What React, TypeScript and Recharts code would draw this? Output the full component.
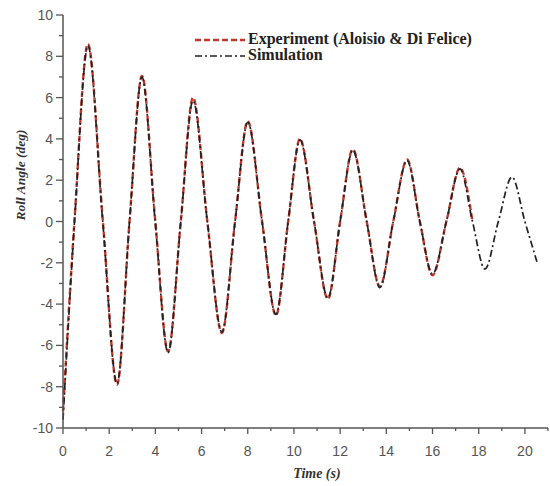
import { LineChart, Line, XAxis, YAxis } from "recharts";

// time (s) of each read point: extremes and zero crossings
const time = [
  0, 0.5, 1.08, 1.72, 2.34, 2.88, 3.42, 3.99, 4.55, 5.1, 5.63, 6.25, 6.88, 7.45,
  8.0, 8.62, 9.22, 9.75, 10.26, 10.87, 11.47, 12.0, 12.55, 13.15, 13.72, 14.3,
  14.9, 15.45, 16.0, 16.6, 17.19, 17.73, 18.27, 18.85, 19.44, 20.0, 20.56,
];

const simulation = [
  -9.6, 0, 8.5, 0, -7.85, 0, 7.0, 0, -6.35, 0, 5.85, 0, -5.35, 0, 4.8, 0, -4.5,
  0, 3.95, 0, -3.7, 0, 3.45, 0, -3.2, 0, 2.95, 0, -2.55, 0, 2.55, 0, -2.3, 0,
  2.15, 0, -2.1,
];

const experiment = [
  -9.2, 0.1, 8.6, 0.1, -7.9, 0, 7.05, 0.1, -6.3, 0, 6.0, 0, -5.4, 0, 4.85, 0,
  -4.55, 0, 4.0, 0, -3.75, 0, 3.5, 0, -3.15, 0, 3.0, 0, -2.6, 0, 2.6, 0,
];

const xTicks = Array.from({ length: 22 }, (_, i) => i);
const yTicks = Array.from({ length: 21 }, (_, i) => i - 10);

const data = time.map((t, i) => ({
  t,
  sim: simulation[i],
  exp: i < experiment.length ? experiment[i] : undefined,
}));

const axisColor = "#555";
const tickFont = "'Liberation Sans', Arial, sans-serif";
const serif = "'Liberation Serif', 'Times New Roman', serif";

const XTick = (props: any) => {
  const { x, y, payload } = props;
  const major = payload.value % 2 === 0;
  return (
    <g>
      <line x1={x} x2={x} y1={y} y2={y + (major ? 6 : 3)} stroke={axisColor} strokeWidth={1.3} />
      {major && (
        <text x={x} y={y + 28} textAnchor="middle" fontSize={14} fill="#555" fontFamily={tickFont}>
          {payload.value}
        </text>
      )}
    </g>
  );
};

const YTick = (props: any) => {
  const { x, y, payload } = props;
  const major = payload.value % 2 === 0;
  return (
    <g>
      <line x1={x} x2={x - (major ? 7 : 4)} y1={y} y2={y} stroke={axisColor} strokeWidth={1.3} />
      {major && (
        <text x={x - 10} y={y + 5} textAnchor="end" fontSize={14} fill="#555" fontFamily={tickFont}>
          {payload.value}
        </text>
      )}
    </g>
  );
};

export default function App() {
  return (
    <div style={{ position: "absolute", left: 0, top: 0, width: 550, height: 486, background: "#fff" }}>
      <LineChart width={550} height={486} data={data} margin={{ top: 15, right: 2, left: 23, bottom: 28 }}>
        <XAxis
          dataKey="t"
          type="number"
          domain={[0, 21]}
          ticks={xTicks}
          interval={0}
          tickSize={0}
          tickMargin={0}
          tickLine={false}
          tick={<XTick />}
          height={30}
          stroke={axisColor}
          strokeWidth={1.5}
          label={{
            content: (p: any) => (
              <text
                x={p.viewBox.x + 254}
                y={p.viewBox.y + 50}
                textAnchor="middle"
                fontSize={14}
                fontWeight="bold"
                fontStyle="italic"
                fill="#333"
                fontFamily={serif}
              >
                Time (s)
              </text>
            ),
          }}
        />
        <YAxis
          type="number"
          domain={[-10, 10]}
          ticks={yTicks}
          interval={0}
          tickSize={0}
          tickMargin={0}
          tickLine={false}
          tick={<YTick />}
          width={40}
          stroke={axisColor}
          strokeWidth={1.5}
          label={{
            content: (p: any) => {
              const cx = p.viewBox.x + 2;
              const cy = p.viewBox.y + 160;
              return (
                <text
                  x={cx}
                  y={cy}
                  transform={`rotate(-90 ${cx} ${cy})`}
                  textAnchor="middle"
                  fontSize={13.5}
                  fontWeight="bold"
                  fontStyle="italic"
                  fill="#333"
                  fontFamily={serif}
                >
                  Roll Angle (deg)
                </text>
              );
            },
          }}
        />
        <Line
          dataKey="exp"
          type="monotone"
          stroke="#c0392b"
          strokeWidth={2.4}
          strokeDasharray="6 3"
          dot={false}
          connectNulls={false}
          isAnimationActive={false}
        />
        <Line
          dataKey="sim"
          type="monotone"
          stroke="#222"
          strokeWidth={1.7}
          strokeDasharray="7 3 2 3"
          dot={false}
          isAnimationActive={false}
        />
      </LineChart>

      <div
        style={{
          position: "absolute",
          left: 195,
          top: 31,
          fontFamily: serif,
          fontWeight: "bold",
          fontSize: 16,
          color: "#222",
          lineHeight: "16px",
        }}
      >
        <div style={{ display: "flex", alignItems: "center" }}>
          <svg width={50} height={16}>
            <line x1={0} x2={50} y1={9} y2={9} stroke="#c0392b" strokeWidth={2.4} strokeDasharray="6 3" />
          </svg>
          <span style={{ marginLeft: 3 }}>Experiment (Aloisio &amp; Di Felice)</span>
        </div>
        <div style={{ display: "flex", alignItems: "center" }}>
          <svg width={50} height={16}>
            <line x1={0} x2={50} y1={9} y2={9} stroke="#222" strokeWidth={1.7} strokeDasharray="7 3 2 3" />
          </svg>
          <span style={{ marginLeft: 3 }}>Simulation</span>
        </div>
      </div>
    </div>
  );
}
